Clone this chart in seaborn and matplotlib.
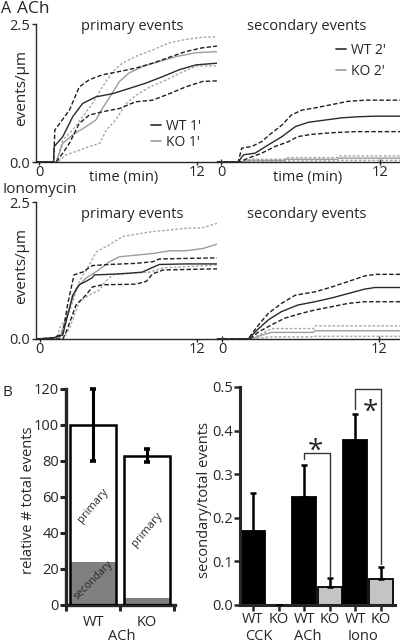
import numpy as np
import pandas as pd
import matplotlib
matplotlib.use("Agg")
import matplotlib.pyplot as plt
from matplotlib.lines import Line2D
import seaborn as sns

# ---------------- data: panel A (cumulative events/um vs time, min) ----------------
# ACh, primary events
wt1_m_t = [-0.2, 1.1, 1.15, 1.8, 2.55, 3.3, 4.3, 5.6, 6.8, 8.1, 9.4, 10.6, 11.9, 13.5]
wt1_m_v = [0, 0, 0.28, 0.46, 0.82, 1.06, 1.18, 1.24, 1.33, 1.43, 1.55, 1.67, 1.76, 1.79]
wt1_hi_t = [-0.2, 1.1, 1.2, 2.3, 3.05, 3.8, 4.8, 6.1, 7.3, 8.6, 9.9, 11.1, 12.4, 13.5]
wt1_hi_v = [0, 0, 0.58, 0.94, 1.36, 1.49, 1.58, 1.64, 1.70, 1.79, 1.90, 2.0, 2.07, 2.1]
wt1_lo_t = [-0.2, 1.3, 1.8, 2.3, 3.05, 3.8, 4.8, 6.1, 7.3, 8.6, 9.9, 11.1, 12.4, 13.5]
wt1_lo_v = [0, 0, 0.16, 0.34, 0.70, 0.85, 0.91, 0.97, 1.09, 1.12, 1.24, 1.36, 1.46, 1.47]
ko1_m_t = [-0.2, 1.3, 1.8, 2.55, 3.55, 4.3, 4.8, 5.6, 6.1, 6.8, 7.85, 9.1, 10.4, 11.9, 13.5]
ko1_m_v = [0, 0, 0.34, 0.49, 0.64, 0.76, 0.97, 1.27, 1.46, 1.61, 1.73, 1.82, 1.91, 1.98, 2.0]
ko1_hi_t = [-0.2, 1.3, 1.8, 2.55, 3.3, 4.05, 4.8, 5.6, 6.3, 7.3, 8.6, 9.9, 11.1, 12.4, 13.5]
ko1_hi_v = [0, 0, 0.40, 0.58, 0.82, 1.06, 1.36, 1.64, 1.79, 1.91, 2.03, 2.16, 2.22, 2.26, 2.27]
ko1_lo_t = [-0.2, 1.4, 2.05, 2.8, 3.8, 4.6, 5.1, 5.8, 6.6, 7.35, 8.4, 9.4, 10.4, 11.9, 13.5]
ko1_lo_v = [0, 0, 0.13, 0.19, 0.28, 0.34, 0.58, 0.76, 1.06, 1.21, 1.36, 1.46, 1.58, 1.74, 1.74]

# ACh, secondary events
wt2_m_t = [-0.3, 1.3, 1.7, 2.57, 3.57, 4.6, 5.6, 6.6, 7.85, 9.1, 10.4, 11.6, 13.5]
wt2_m_v = [0, 0, 0.13, 0.16, 0.31, 0.46, 0.64, 0.72, 0.76, 0.80, 0.82, 0.83, 0.83]
wt2_hi_t = [-0.3, 1.3, 1.56, 2.3, 3.07, 3.8, 4.6, 5.3, 6.1, 7.1, 8.35, 9.6, 10.9, 13.5]
wt2_hi_v = [0, 0, 0.25, 0.28, 0.37, 0.52, 0.67, 0.85, 0.94, 0.98, 1.04, 1.10, 1.12, 1.12]
wt2_lo_t = [-0.3, 1.4, 2.06, 3.07, 4.07, 5.1, 5.8, 6.8, 8.35, 10.1, 13.5]
wt2_lo_v = [0, 0, 0.07, 0.16, 0.28, 0.37, 0.46, 0.50, 0.53, 0.55, 0.55]
ko2_t = [-0.3, 1.6, 2.2, 4.8, 4.9, 8.8, 8.9, 13.5]
ko2_m_v = [0, 0, 0.03, 0.03, 0.05, 0.05, 0.07, 0.07]
ko2_hi_v = [0, 0, 0.05, 0.05, 0.08, 0.08, 0.11, 0.11]
ko2_lo_v = [0, 0, 0.01, 0.01, 0.02, 0.02, 0.03, 0.03]

# Ionomycin, primary events
wt3_m_t = [-0.3, 1.0, 1.73, 2.0, 2.5, 3.0, 3.5, 4.0, 4.15, 5.3, 6.8, 7.8, 8.35, 9.1, 11.1, 13.5]
wt3_m_v = [0, 0.02, 0.07, 0.32, 0.80, 0.99, 1.05, 1.12, 1.17, 1.18, 1.20, 1.22, 1.28, 1.36, 1.37, 1.37]
wt3_hi_t = [-0.3, 1.0, 1.75, 2.1, 2.6, 3.25, 4.0, 5.3, 7.3, 8.6, 9.1, 11.1, 13.5]
wt3_hi_v = [0, 0.02, 0.1, 0.62, 1.17, 1.22, 1.34, 1.36, 1.38, 1.41, 1.46, 1.47, 1.48]
wt3_lo_t = [-0.3, 1.75, 2.1, 2.75, 3.5, 4.0, 4.8, 7.3, 8.1, 8.6, 9.4, 13.5]
wt3_lo_v = [0, 0, 0.19, 0.62, 0.80, 0.95, 0.99, 1.0, 1.05, 1.19, 1.26, 1.28]
ko3_m_t = [-0.3, 1.5, 2.0, 2.75, 3.5, 4.3, 5.3, 6.05, 7.3, 8.6, 9.9, 11.1, 12.4, 13.5]
ko3_m_v = [0, 0.02, 0.38, 0.92, 1.11, 1.23, 1.41, 1.50, 1.53, 1.56, 1.61, 1.61, 1.65, 1.73]
ko3_hi_t = [-0.3, 1.3, 1.5, 2.25, 3.0, 3.75, 4.3, 5.3, 6.3, 7.3, 8.6, 9.9, 11.1, 12.4, 13.5]
ko3_hi_v = [0, 0.02, 0.2, 0.50, 1.05, 1.35, 1.59, 1.72, 1.87, 1.91, 1.96, 1.99, 2.02, 2.03, 2.11]
ko3_lo_t = [-0.3, 1.75, 2.25, 3.0, 3.75, 4.5, 5.0, 5.55, 6.8, 8.35, 9.4, 11.1, 13.5]
ko3_lo_v = [0, 0, 0.19, 0.68, 0.80, 0.89, 1.05, 1.17, 1.20, 1.22, 1.30, 1.32, 1.35]

# Ionomycin, secondary events
wt4_m_t = [-0.4, 2.0, 2.8, 3.55, 4.55, 5.8, 7.1, 8.4, 9.65, 10.9, 11.7, 13.6]
wt4_m_v = [0, 0, 0.19, 0.35, 0.50, 0.62, 0.68, 0.75, 0.83, 0.91, 0.94, 0.94]
wt4_hi_t = [-0.4, 2.0, 2.8, 3.55, 4.55, 5.6, 7.1, 8.4, 9.65, 10.9, 11.7, 13.6]
wt4_hi_v = [0, 0, 0.26, 0.47, 0.65, 0.80, 0.86, 0.95, 1.05, 1.15, 1.18, 1.18]
wt4_lo_t = [-0.4, 2.1, 2.8, 3.8, 4.8, 6.1, 7.1, 8.4, 9.65, 10.9, 13.6]
wt4_lo_v = [0, 0, 0.13, 0.26, 0.38, 0.47, 0.53, 0.59, 0.65, 0.68, 0.68]
ko4_t = [-0.4, 2.2, 3.3, 3.8, 7.0, 7.1, 13.6]
ko4_m_v = [0, 0, 0.09, 0.12, 0.12, 0.15, 0.15]
ko4_hi_v = [0, 0, 0.13, 0.19, 0.19, 0.24, 0.24]
ko4_lo_v = [0, 0, 0.03, 0.04, 0.04, 0.05, 0.05]

# ---------------- data: panel B ----------------
b1_cats = ["WT", "KO"]
b1_total = [100, 83]
b1_total_err = [20, 3.5]
b1_secondary = [24, 4]
b1_group = "ACh"

b2_cats = ["WT CCK", "KO CCK", "WT ACh", "KO ACh", "WT Iono", "KO Iono"]
b2_ticklabels = ["WT", "KO", "WT", "KO", "WT", "KO"]
b2_groups = ["CCK", "ACh", "Iono"]
b2_vals = [0.17, 0.0, 0.248, 0.042, 0.378, 0.059]
b2_err = [0.088, 0.0, 0.074, 0.020, 0.059, 0.029]
b2_colors = ["black", "#c4c4c4", "black", "#c4c4c4", "black", "#c4c4c4"]
sig_pairs = [(2, 3), (4, 5)]
sig_heights = [0.349, 0.495]
star_x = [2.42, 4.6]
star_y = [0.374, 0.463]

# ---------------- styling ----------------
sns.set_style("ticks")
plt.rcParams["font.family"] = ["Open Sans", "DejaVu Sans"]
plt.rcParams["axes.linewidth"] = 1.0

W, H = 400, 644
fig = plt.figure(figsize=(W / 100, H / 100), dpi=100)


def rect(x0, y0, x1, y1):
    return [x0 / W, 1 - y1 / H, (x1 - x0) / W, (y1 - y0) / H]


def ftext(x, y, s, **kw):
    fig.text(x / W, 1 - y / H, s, **kw)


WT_C, WT_D = "#2a2a2a", "#1e1e1e"
KO_C, KO_D = "#9c9c9c", "#a6a6a6"
dash_wt = (0, (3.2, 1.6))
dash_ko = (0, (1.8, 1.4))


def draw_set(ax, series):
    for t, v, c, ls in series:
        sns.lineplot(x=t, y=v, ax=ax, color=c, linestyle=ls, lw=1.0,
                     estimator=None, sort=False)


ax1 = fig.add_axes(rect(36, 24, 217, 162))
ax2 = fig.add_axes(rect(217, 24, 400, 162))
ax3 = fig.add_axes(rect(36, 202, 217, 339))
ax4 = fig.add_axes(rect(217, 202, 400, 339))

draw_set(ax1, [
    (ko1_hi_t, ko1_hi_v, KO_D, dash_ko), (ko1_lo_t, ko1_lo_v, KO_D, dash_ko),
    (ko1_m_t, ko1_m_v, KO_C, "-"),
    (wt1_hi_t, wt1_hi_v, WT_D, dash_wt), (wt1_lo_t, wt1_lo_v, WT_D, dash_wt),
    (wt1_m_t, wt1_m_v, WT_C, "-"),
])
draw_set(ax2, [
    (ko2_t, ko2_hi_v, KO_D, dash_ko), (ko2_t, ko2_lo_v, KO_D, dash_ko),
    (ko2_t, ko2_m_v, KO_C, "-"),
    (wt2_hi_t, wt2_hi_v, WT_D, dash_wt), (wt2_lo_t, wt2_lo_v, WT_D, dash_wt),
    (wt2_m_t, wt2_m_v, WT_C, "-"),
])
draw_set(ax3, [
    (ko3_hi_t, ko3_hi_v, KO_D, dash_ko), (ko3_lo_t, ko3_lo_v, KO_D, dash_ko),
    (ko3_m_t, ko3_m_v, KO_C, "-"),
    (wt3_hi_t, wt3_hi_v, WT_D, dash_wt), (wt3_lo_t, wt3_lo_v, WT_D, dash_wt),
    (wt3_m_t, wt3_m_v, WT_C, "-"),
])
draw_set(ax4, [
    (ko4_t, ko4_hi_v, KO_D, dash_ko), (ko4_t, ko4_lo_v, KO_D, dash_ko),
    (ko4_t, ko4_m_v, KO_C, "-"),
    (wt4_hi_t, wt4_hi_v, WT_D, dash_wt), (wt4_lo_t, wt4_lo_v, WT_D, dash_wt),
    (wt4_m_t, wt4_m_v, WT_C, "-"),
])

for ax, xl, left in [(ax1, (-0.23, 13.48), True), (ax2, (-0.3, 13.5), False),
                     (ax3, (-0.3, 13.5), True), (ax4, (-0.38, 13.6), False)]:
    ax.set_xlim(*xl)
    ax.set_ylim(0, 2.5)
    ax.set_facecolor("none")
    for s in ["top", "right"]:
        ax.spines[s].set_visible(False)
    ax.spines["bottom"].set_linewidth(1.0)
    ax.set_xticks([0, 12])
    ax.set_xticklabels(["0", "12"])
    ax.tick_params(axis="x", direction="inout" if not left else "out",
                   length=4 if not left else 2.5, width=1, labelsize=10.5,
                   pad=0)
    ax.set_xlabel("")
    ax.set_ylabel("")
    if left:
        ax.set_yticks([0, 2.5])
        ax.set_yticklabels(["0.0", "2.5"])
        ax.tick_params(axis="y", direction="out", length=3, width=1,
                       labelsize=10.5, pad=1)
    else:
        ax.spines["left"].set_visible(False)
        ax.set_yticks([])

# titles and labels for panel A
ftext(1, 9, "A", fontsize=11.5, va="center", ha="left")
ftext(17, 9, "ACh", fontsize=12.5, va="center", ha="left")
ftext(3, 189.5, "Ionomycin", fontsize=11, va="center", ha="left")
for y in (26, 214):
    ftext(132, y, "primary events", fontsize=10.5, ha="center", va="center")
    ftext(307, y, "secondary events", fontsize=10.5, ha="center", va="center")
ftext(22, 88, "events/µm", fontsize=11, rotation=90, ha="center", va="center")
ftext(22, 266, "events/µm", fontsize=11, rotation=90, ha="center", va="center")
ftext(124, 178, "time (min)", fontsize=10.5, ha="center", va="center")
ftext(308, 178, "time (min)", fontsize=10.5, ha="center", va="center")

leg_kw = dict(frameon=False, fontsize=10, handlelength=0.75, handletextpad=0.35,
              labelspacing=0.05, borderpad=0, borderaxespad=0, loc="upper left")
h1 = [Line2D([], [], color=WT_C, lw=1.2), Line2D([], [], color=KO_C, lw=1.2)]
ax1.legend(h1, ["WT 1'", "KO 1'"], bbox_to_anchor=(151 / W, 1 - 119 / H),
           bbox_transform=fig.transFigure, **leg_kw)
ax2.legend(h1, ["WT 2'", "KO 2'"], bbox_to_anchor=(336 / W, 1 - 43 / H),
           bbox_transform=fig.transFigure, **dict(leg_kw, labelspacing=0.45))

# ---------------- panel B left ----------------
ax5 = fig.add_axes(rect(66, 389, 175, 605))
sns.barplot(x=b1_cats, y=b1_total, ax=ax5, color="white", width=0.86,
            saturation=1, errorbar=None, edgecolor="black", linewidth=1.8)
outline = list(ax5.patches)
sns.barplot(x=b1_cats, y=b1_secondary, ax=ax5, color="#808080", width=0.86,
            saturation=1, errorbar=None, linewidth=0)
for p in outline:
    p.set_facecolor("none")
    p.set_zorder(4)
ax5.errorbar(range(len(b1_cats)), b1_total, yerr=b1_total_err, fmt="none",
             ecolor="black", elinewidth=2.2, capsize=2, capthick=2.6, zorder=5,
             clip_on=False)
ax5.set_xlim(-0.486, 1.514)
ax5.set_ylim(0, 120)
ax5.set_yticks(np.arange(0, 121, 20))
ax5.set_xticks([0, 1])
ax5.set_xticklabels(b1_cats)
ax5.set_xticks([-0.5, 0.5, 1.5], minor=True)
ax5.tick_params(axis="x", which="major", length=0, pad=7, labelsize=10.5)
ax5.tick_params(axis="x", which="minor", length=4, width=2.2, direction="out")
ax5.tick_params(axis="y", length=4, width=2.2, direction="out", labelsize=10.5, pad=1)
for s in ["top", "right"]:
    ax5.spines[s].set_visible(False)
for s in ["left", "bottom"]:
    ax5.spines[s].set_linewidth(2.4)
ax5.set_xlabel("")
ax5.set_ylabel("")
ax5.text(0.0, 55, "primary", rotation=50, fontsize=8, ha="center", va="center")
ax5.text(1.0, 42, "primary", rotation=50, fontsize=8, ha="center", va="center")
ax5.text(0.0, 13.5, "secondary", rotation=45, fontsize=7.5, ha="center",
         va="center", zorder=6)
ftext(28, 500, "relative # total events", fontsize=10.5, rotation=90,
      ha="center", va="center")
ftext(122, 637, b1_group, fontsize=10.5, ha="center", va="center")
ftext(3, 392, "B", fontsize=11, ha="left", va="center")

# ---------------- panel B right ----------------
ax6 = fig.add_axes(rect(240, 387, 395, 605))
sns.barplot(x=b2_cats, y=b2_vals, hue=b2_cats, palette=b2_colors, legend=False,
            ax=ax6, width=0.94, saturation=1, errorbar=None,
            edgecolor="black", linewidth=1.3)
ax6.errorbar(range(len(b2_cats)), b2_vals,
             yerr=[np.zeros(len(b2_err)), b2_err], fmt="none", ecolor="black",
             elinewidth=1.8, capsize=2, capthick=1.8, zorder=3)
for (i, j), hgt, sx, sy in zip(sig_pairs, sig_heights, star_x, star_y):
    left_bottom = b2_vals[i] + b2_err[i] + 0.012
    right_bottom = b2_vals[j] + b2_err[j] + 0.005
    ax6.plot([i, i, j, j], [left_bottom, hgt, hgt, right_bottom],
             color="#333333", lw=1.0, clip_on=False)
    ax6.annotate("*", xy=(sx, sy), xytext=(0, -12.2), textcoords="offset points",
                 fontsize=20, ha="center", va="baseline")
ax6.set_xlim(-0.508, 5.547)
ax6.set_ylim(0, 0.5)
ax6.set_yticks(np.arange(0, 0.51, 0.1))
ax6.set_yticklabels([f"{v:.1f}" for v in np.arange(0, 0.51, 0.1)])
ax6.set_xticks(range(len(b2_cats)))
ax6.set_xticklabels(b2_ticklabels)
ax6.tick_params(axis="x", length=4, width=1.8, direction="out", labelsize=10.5,
                pad=1)
ax6.tick_params(axis="y", length=4, width=1.8, direction="out", labelsize=10.5,
                pad=1)
for s in ["top", "right"]:
    ax6.spines[s].set_visible(False)
for s in ["left", "bottom"]:
    ax6.spines[s].set_linewidth(2.2)
ax6.set_xlabel("")
ax6.set_ylabel("")
for name, xp in zip(b2_groups, [259, 308, 363]):
    ftext(xp, 637, name, fontsize=10.5, ha="center", va="center")
ftext(205, 500, "secondary/total events", fontsize=10.5, rotation=90,
      ha="center", va="center")

fig.savefig("out.png", dpi=100)
